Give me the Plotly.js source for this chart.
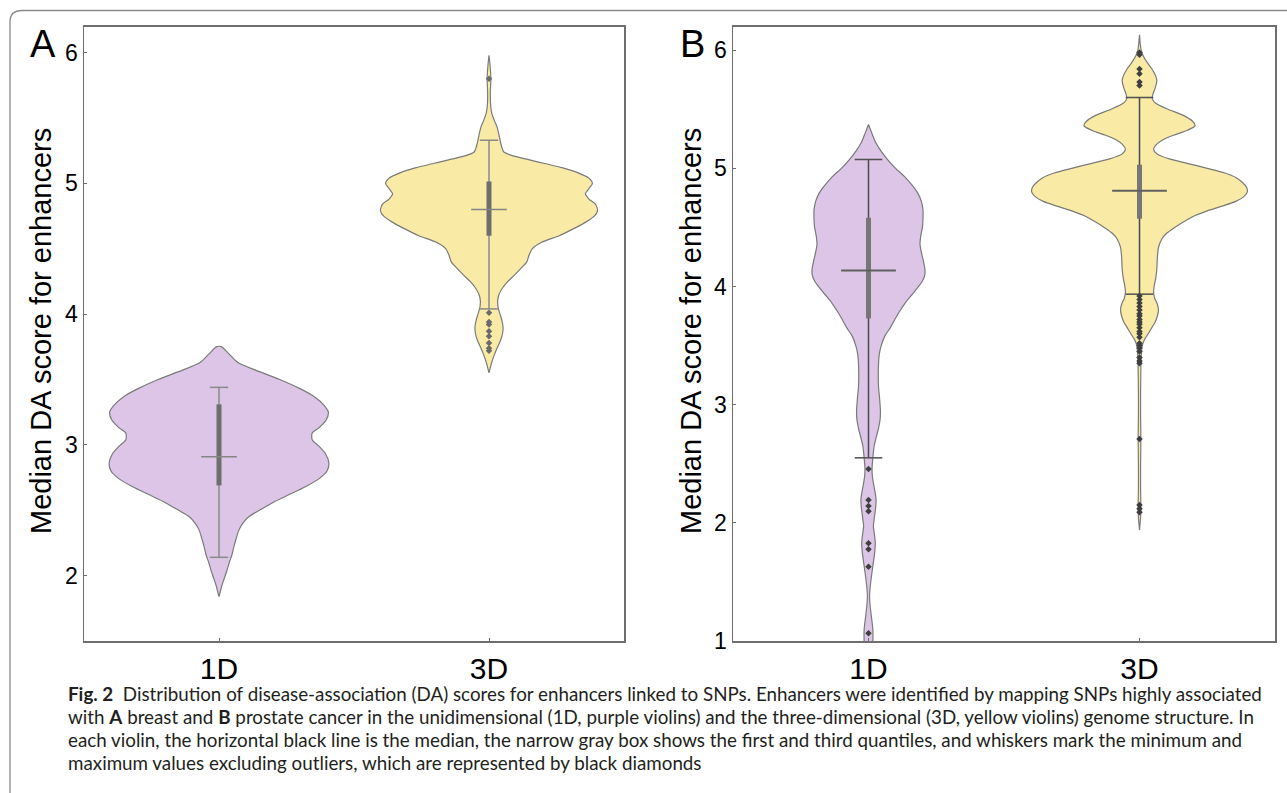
<!DOCTYPE html>
<html><head><meta charset="utf-8">
<script src="https://cdn.plot.ly/plotly-3.0.1.min.js"></script>
<style>html,body{margin:0;padding:0;background:#fff;}#chart{width:1287px;height:793px;}</style>
</head><body><div id="chart"></div>
<script>
// ---------- data ----------
const categories = ['1D', '3D'];
const categoryPos = [0, 1];
const yTicksA = [2, 3, 4, 5, 6];
const yTicksB = [1, 2, 3, 4, 5, 6];
const yTitle = 'Median DA score for enhancers';
const panelLabels = ['A', 'B'];

// Panel A, 1D violin: score levels and half-widths of the density outline
const a1dLevels = [3.75, 3.70, 3.63, 3.56, 3.50, 3.43, 3.37, 3.30, 3.25, 3.19, 3.13, 3.09, 3.04, 2.99, 2.93, 2.86, 2.80, 2.74, 2.68, 2.62, 2.56, 2.50, 2.45, 2.40, 2.35, 2.28, 2.22, 2.16, 2.10, 2.03, 1.97, 1.92, 1.87, 1.84];
const a1dWidth  = [0.01, 0.035, 0.07, 0.15, 0.225, 0.30, 0.352, 0.39, 0.405, 0.397, 0.37, 0.345, 0.345, 0.37, 0.395, 0.407, 0.40, 0.37, 0.32, 0.26, 0.20, 0.15, 0.11, 0.088, 0.074, 0.063, 0.055, 0.048, 0.038, 0.028, 0.018, 0.01, 0.004, 0];
// Panel A, 3D violin
const a3dLevels = [5.98, 5.90, 5.80, 5.70, 5.60, 5.54, 5.48, 5.43, 5.38, 5.33, 5.28, 5.24, 5.21, 5.18, 5.15, 5.12, 5.08, 5.04, 5.00, 4.96, 4.92, 4.88, 4.84, 4.79, 4.75, 4.70, 4.65, 4.60, 4.55, 4.50, 4.45, 4.40, 4.35, 4.30, 4.25, 4.20, 4.15, 4.10, 4.05, 4.00, 3.95, 3.90, 3.85, 3.80, 3.75, 3.70, 3.65, 3.60, 3.55];
const a3dWidth  = [0, 0.004, 0.007, 0.005, 0.006, 0.01, 0.02, 0.03, 0.036, 0.041, 0.047, 0.055, 0.09, 0.15, 0.21, 0.27, 0.33, 0.37, 0.383, 0.37, 0.357, 0.37, 0.395, 0.402, 0.39, 0.355, 0.31, 0.26, 0.195, 0.16, 0.148, 0.14, 0.118, 0.095, 0.07, 0.05, 0.037, 0.032, 0.034, 0.041, 0.048, 0.052, 0.05, 0.043, 0.032, 0.022, 0.013, 0.006, 0];
// Panel B, 1D violin
const b1dLevels = [5.37, 5.30, 5.22, 5.15, 5.07, 5.00, 4.93, 4.86, 4.79, 4.72, 4.65, 4.57, 4.50, 4.43, 4.36, 4.29, 4.22, 4.15, 4.10, 4.05, 4.00, 3.93, 3.86, 3.79, 3.72, 3.65, 3.58, 3.50, 3.43, 3.35, 3.25, 3.15, 3.05, 2.95, 2.88, 2.80, 2.72, 2.65, 2.55, 2.45, 2.38, 2.30, 2.20, 2.12, 2.05, 1.97, 1.90, 1.83, 1.75, 1.65, 1.55, 1.45, 1.38, 1.30, 1.20, 1.10, 1.00, 0.95];
const b1dWidth  = [0, 0.012, 0.026, 0.045, 0.072, 0.10, 0.133, 0.16, 0.182, 0.195, 0.201, 0.201, 0.199, 0.193, 0.19, 0.195, 0.202, 0.208, 0.208, 0.20, 0.185, 0.16, 0.135, 0.115, 0.097, 0.08, 0.06, 0.047, 0.04, 0.037, 0.036, 0.037, 0.041, 0.044, 0.043, 0.037, 0.028, 0.021, 0.016, 0.013, 0.015, 0.021, 0.028, 0.026, 0.022, 0.018, 0.022, 0.025, 0.023, 0.017, 0.011, 0.006, 0.004, 0.006, 0.011, 0.016, 0.016, 0.014];
// Panel B, 3D violin
const b3dLevels = [6.13, 6.05, 6.00, 5.95, 5.90, 5.84, 5.78, 5.74, 5.68, 5.63, 5.59, 5.55, 5.50, 5.45, 5.40, 5.36, 5.32, 5.28, 5.24, 5.20, 5.16, 5.12, 5.08, 5.04, 5.00, 4.96, 4.92, 4.88, 4.84, 4.80, 4.76, 4.72, 4.68, 4.64, 4.60, 4.55, 4.50, 4.45, 4.40, 4.33, 4.25, 4.15, 4.07, 4.00, 3.95, 3.90, 3.85, 3.80, 3.75, 3.70, 3.65, 3.60, 3.55, 3.50, 3.40, 3.30, 3.10, 2.90, 2.70, 2.50, 2.30, 2.15, 2.05, 1.94];
const b3dWidth  = [0, 0.003, 0.006, 0.014, 0.027, 0.046, 0.06, 0.064, 0.058, 0.05, 0.047, 0.06, 0.105, 0.16, 0.195, 0.205, 0.175, 0.125, 0.085, 0.062, 0.052, 0.065, 0.11, 0.18, 0.25, 0.315, 0.357, 0.38, 0.395, 0.398, 0.385, 0.355, 0.305, 0.25, 0.205, 0.165, 0.13, 0.10, 0.082, 0.07, 0.066, 0.064, 0.06, 0.054, 0.052, 0.056, 0.066, 0.07, 0.066, 0.058, 0.045, 0.032, 0.018, 0.01, 0.006, 0.005, 0.004, 0.004, 0.005, 0.004, 0.004, 0.005, 0.004, 0];

// Box statistics per category [1D, 3D]
const aWhiskerLow  = [2.14, 4.04];
const aQ1          = [2.69, 4.60];
const aMedian      = [2.91, 4.80];
const aQ3          = [3.31, 5.015];
const aWhiskerHigh = [3.44, 5.33];
const bWhiskerLow  = [2.55, 3.935];
const bQ1          = [3.73, 4.573];
const bMedian      = [4.136, 4.81];
const bQ3          = [4.582, 5.03];
const bWhiskerHigh = [5.074, 5.60];

// Outliers
const a1dOutliers = [];
const a3dOutliers = [5.80, 4.01, 3.94, 3.92, 3.87, 3.83, 3.78, 3.74, 3.72];
const b1dOutliers = [2.456, 2.194, 2.143, 2.098, 1.827, 1.776, 1.629, 1.065];
const b3dOutliers = [5.98, 5.96, 5.84, 5.80, 5.73, 5.70, 3.92, 3.89, 3.86, 3.83, 3.80, 3.77, 3.75, 3.72, 3.70, 3.68, 3.65, 3.62, 3.60, 3.57, 3.52, 3.50, 3.48, 3.45, 3.40, 3.37, 3.35, 2.71, 2.15, 2.12, 2.09];

const captionLines = [
  '<b>Fig. 2</b>  Distribution of disease-association (DA) scores for enhancers linked to SNPs. Enhancers were identified by mapping SNPs highly associated',
  'with <b>A</b> breast and <b>B</b> prostate cancer in the unidimensional (1D, purple violins) and the three-dimensional (3D, yellow violins) genome structure. In',
  'each violin, the horizontal black line is the median, the narrow gray box shows the first and third quantiles, and whiskers mark the minimum and',
  'maximum values excluding outliers, which are represented by black diamonds'
];

// ---------- styling ----------
const W = 1287, H = 793;
const PURPLE = '#dcc5e7', YELLOW = '#f9eaa6', OUTLINE = '#7a7a7a';
const AX = 'Liberation Sans, Arial, sans-serif';
const px = v => v / W;
const py = v => 1 - v / H;

function violin(levels, widths, pos, fill, xa, ya) {
  const right = levels.map((l, i) => pos + widths[i]);
  const left = levels.map((l, i) => pos - widths[i]).reverse();
  return {
    type: 'scatter', mode: 'lines', xaxis: xa, yaxis: ya,
    x: right.concat(left, [right[0]]),
    y: levels.concat(levels.slice().reverse(), [levels[0]]),
    fill: 'toself', fillcolor: fill,
    line: {color: OUTLINE, width: 1.2, shape: 'spline', smoothing: 0.7},
    hoverinfo: 'skip', showlegend: false
  };
}

function boxParts(low, q1, med, q3, high, xa, ya, st) {
  const out = [];
  const wx = [], wy = [], cx = [], cy = [], bx = [], by = [], mx = [], my = [];
  categoryPos.forEach((p, i) => {
    wx.push(p, p, null); wy.push(low[i], high[i], null);
    cx.push(p - st.cap, p + st.cap, null, p - st.cap, p + st.cap, null);
    cy.push(low[i], low[i], null, high[i], high[i], null);
    bx.push(p, p, null); by.push(q1[i], q3[i], null);
    mx.push(p - st.med, p + st.med, null); my.push(med[i], med[i], null);
  });
  const base = {type: 'scatter', mode: 'lines', xaxis: xa, yaxis: ya, hoverinfo: 'skip', showlegend: false};
  out.push(Object.assign({}, base, {x: wx, y: wy, line: {color: st.whisker, width: st.ww}}));
  out.push(Object.assign({}, base, {x: cx, y: cy, line: {color: st.capColor, width: st.ww}}));
  out.push(Object.assign({}, base, {x: bx, y: by, line: {color: st.box, width: 5}}));
  out.push(Object.assign({}, base, {x: mx, y: my, line: {color: st.medColor, width: st.mw}}));
  return out;
}

function outliers(vals, pos, xa, ya, color) {
  return {type: 'scatter', mode: 'markers', xaxis: xa, yaxis: ya,
    x: vals.map(() => pos), y: vals,
    marker: {symbol: 'diamond', size: 5, color: color},
    hoverinfo: 'skip', showlegend: false};
}

const traces = [
  violin(a1dLevels, a1dWidth, categoryPos[0], PURPLE, 'x', 'y'),
  violin(a3dLevels, a3dWidth, categoryPos[1], YELLOW, 'x', 'y'),
  violin(b1dLevels, b1dWidth, categoryPos[0], PURPLE, 'x2', 'y2'),
  violin(b3dLevels, b3dWidth, categoryPos[1], YELLOW, 'x2', 'y2'),
  ...boxParts(aWhiskerLow, aQ1, aMedian, aQ3, aWhiskerHigh, 'x', 'y',
    {cap: 0.034, med: 0.066, whisker: '#8a8a8a', capColor: '#8a8a8a', box: '#6e6e6e', medColor: '#858585', ww: 1.5, mw: 1.5}),
  ...boxParts(bWhiskerLow, bQ1, bMedian, bQ3, bWhiskerHigh, 'x2', 'y2',
    {cap: 0.051, med: 0.101, whisker: '#4a4a4a', capColor: '#505050', box: '#767676', medColor: '#606060', ww: 1.5, mw: 2}),
  outliers(a1dOutliers, categoryPos[0], 'x', 'y', '#6a6a6a'),
  outliers(a3dOutliers, categoryPos[1], 'x', 'y', '#6a6a6a'),
  outliers(b1dOutliers, categoryPos[0], 'x2', 'y2', '#3f3f3f'),
  outliers(b3dOutliers, categoryPos[1], 'x2', 'y2', '#3f3f3f')
];

const yDomain = [py(641), py(26.5)];
function xAxis(domain, anchor) {
  return {domain: domain, anchor: anchor, range: [-0.5, 1.5], tickvals: categoryPos, ticktext: categories,
    ticks: 'inside', ticklen: 3, tickcolor: '#6e6e6e', showline: true, mirror: true, linecolor: '#6e6e6e', linewidth: 1.5,
    showgrid: false, zeroline: false, tickfont: {family: AX, size: 30, color: '#000'}, fixedrange: true};
}
function yAxis(range, ticks, anchor) {
  return {domain: yDomain, anchor: anchor, range: range, tickvals: ticks,
    ticks: 'inside', ticklen: 3, tickcolor: '#6e6e6e', showline: true, mirror: true, linecolor: '#6e6e6e', linewidth: 1.5,
    showgrid: false, zeroline: false, tickfont: {family: AX, size: 23, color: '#000'}, fixedrange: true};
}

const annotations = [];
const panelLabelX = [28, 678];
const yTitleX = [41, 691];
panelLabels.forEach((lab, i) => {
  annotations.push({text: lab, x: px(panelLabelX[i]), y: py(44), xref: 'paper', yref: 'paper', xanchor: 'left', yanchor: 'middle',
    showarrow: false, font: {family: AX, size: 38, color: '#000'}});
  annotations.push({text: yTitle, textangle: -90, x: px(yTitleX[i]), y: py(331), xref: 'paper', yref: 'paper', xanchor: 'center', yanchor: 'middle',
    showarrow: false, font: {family: AX, size: 29, color: '#000'}});
});
const captionY = [693, 716, 739, 762];
captionLines.forEach((t, i) => annotations.push({
  text: t, x: px(66), y: py(captionY[i]), xref: 'paper', yref: 'paper', xanchor: 'left', yanchor: 'middle',
  showarrow: false, align: 'left', font: {family: 'Lato, sans-serif', size: 18.8, color: '#231f20'}
}));

const frame = `M ${px(10)},${py(800)} L ${px(10)},${py(22)} Q ${px(10)},${py(10.5)} ${px(22)},${py(10.5)} L ${px(1300)},${py(10.5)}`;

const layout = {
  width: W, height: H, margin: {l: 0, r: 0, t: 0, b: 0},
  paper_bgcolor: '#fff', plot_bgcolor: '#fff', showlegend: false,
  xaxis: xAxis([px(84), px(624)], 'y'),
  yaxis: yAxis([1.5, 6.2], yTicksA, 'x'),
  xaxis2: xAxis([px(733), px(1275)], 'y2'),
  yaxis2: yAxis([1, 6.2], yTicksB, 'x2'),
  annotations: annotations,
  shapes: [{type: 'path', xref: 'paper', yref: 'paper', path: frame, line: {color: '#8a8a8a', width: 1.3}}]
};

Plotly.newPlot('chart', traces, layout, {staticPlot: true, displayModeBar: false});
</script></body></html>
